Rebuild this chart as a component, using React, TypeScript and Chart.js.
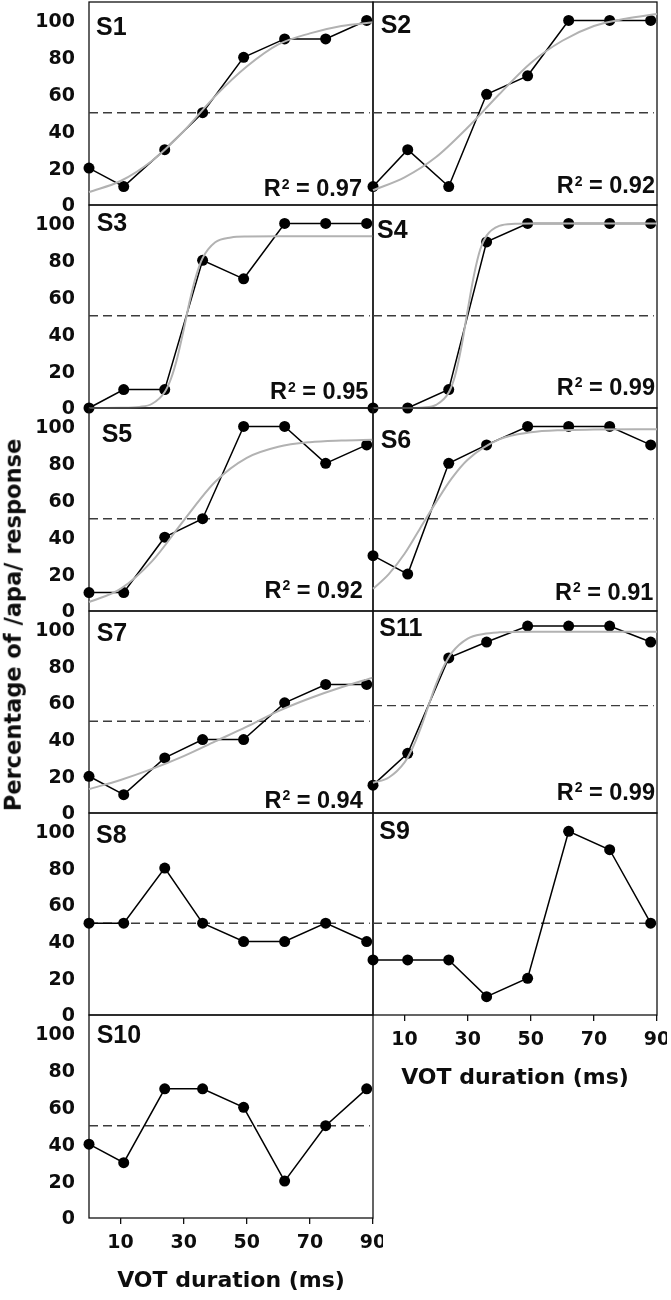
import React, { useEffect, useRef } from "react";
import { Chart, registerables } from "chart.js";

Chart.register(...registerables);

// ---------------- data ----------------
const VOT_MS = [0, 11, 24, 36, 49, 62, 75, 88];
const X_TICKS = [10, 30, 50, 70, 90];
const Y_TICKS = [0, 20, 40, 60, 80, 100];
const CRITERION = 50;

const S1 = [20, 10, 30, 50, 80, 90, 90, 100];
const S2 = [10, 30, 10, 60, 70, 100, 100, 100];
const S3 = [0, 10, 10, 80, 70, 100, 100, 100];
const S4 = [0, 0, 10, 90, 100, 100, 100, 100];
const S5 = [10, 10, 40, 50, 100, 100, 80, 90];
const S6 = [30, 20, 80, 90, 100, 100, 100, 90];
const S7 = [20, 10, 30, 40, 40, 60, 70, 70];
const S8 = [50, 50, 80, 50, 40, 40, 50, 40];
const S9 = [30, 30, 30, 10, 20, 100, 90, 50];
const S10 = [40, 30, 70, 70, 60, 20, 50, 70];
const S11 = [0, 20, 80, 90, 100, 100, 100, 90];

// fitted curves (grey)
const FIT_X = [0, 10, 20, 30, 40, 50, 60, 70, 80, 90];
const FIT_S1 = [7, 13, 24, 40, 59, 75, 87, 93, 97, 99];
const FIT_S2 = [8, 15, 26, 42, 60, 77, 89, 97, 101, 103.5];
const FIT_S3_X = [0, 10, 16, 20, 24, 26, 28, 30, 32, 34, 36, 40, 45, 50, 60, 90];
const FIT_S3 = [0, 0.1, 0.6, 2.3, 8.7, 16, 27.4, 42.4, 58.5, 71.9, 81.2, 89.8, 92.4, 92.9, 93, 93];
const FIT_S4_X = [0, 10, 16, 20, 24, 26, 28, 30, 32, 34, 36, 40, 45, 50, 90];
const FIT_S4 = [0, 0, 0.3, 1.7, 8.4, 17.5, 33, 53, 72, 86, 93.4, 98.7, 99.8, 100, 100];
const FIT_S5 = [4.8, 12, 27, 49, 70, 83, 89, 91.5, 92.4, 92.8];
const FIT_S6_X = [0, 5, 10, 15, 20, 25, 30, 40, 50, 60, 70, 90];
const FIT_S6 = [12, 20, 31, 45, 59, 72, 82, 93, 96.8, 98, 98.3, 98.5];
const FIT_S7 = [13, 18, 24, 31, 39, 47, 55.5, 62.5, 68.5, 73.7];
const FIT_S11_X = [0, 5, 10, 12.5, 15, 17.5, 20, 22.5, 25, 30, 35, 40, 50, 90];
const FIT_S11 = [1.5, 4.8, 14.3, 23.2, 35.3, 49.5, 63.5, 75, 83.4, 92.2, 95.1, 96.1, 96.5, 96.5];

const R2_VALUES = { S1: 0.97, S2: 0.92, S3: 0.95, S4: 0.99, S5: 0.92, S6: 0.91, S7: 0.94, S11: 0.99 };

const Y_TITLE = "Percentage of /apa/ response";
const X_TITLE = "VOT duration (ms)";

// ---------------- layout ----------------
const COL_LEFT = [89, 373];
const COL_W = 284;
const ROW_TOP = [2, 205, 408, 611, 813, 1015];
const ROW_H = [203, 203, 203, 202, 202, 203];
const PAD = 10;
const X_AXIS_H = 76;
const FONT = "'DejaVu Sans', 'Liberation Sans', sans-serif";
const R2_FONT = "'Liberation Sans', Arial, sans-serif";

type PanelCfg = {
  name: string;
  values: number[];
  fitX?: number[];
  fitY?: number[];
  col: number;
  row: number;
  yMin: number;
  yMax: number;
  showX: boolean;
  lab: [number, number];
  r2Pos?: [number, number];
};

const PANELS: PanelCfg[] = [
  { name: "S1", values: S1, fitX: FIT_X, fitY: FIT_S1, col: 0, row: 0, yMin: 0, yMax: 110, showX: false, lab: [7, 33], r2Pos: [11, 9] },
  { name: "S2", values: S2, fitX: FIT_X, fitY: FIT_S2, col: 1, row: 0, yMin: 0, yMax: 110, showX: false, lab: [7.7, 31.3], r2Pos: [2, 11.7] },
  { name: "S3", values: S3, fitX: FIT_S3_X, fitY: FIT_S3, col: 0, row: 1, yMin: 0, yMax: 110, showX: false, lab: [7.7, 25.7], r2Pos: [4.7, 9] },
  { name: "S4", values: S4, fitX: FIT_S4_X, fitY: FIT_S4, col: 1, row: 1, yMin: 0, yMax: 110, showX: false, lab: [4, 33.3], r2Pos: [2, 13.3] },
  { name: "S5", values: S5, fitX: FIT_X, fitY: FIT_S5, col: 0, row: 2, yMin: 0, yMax: 110, showX: false, lab: [12.7, 34.4], r2Pos: [10.3, 13.4] },
  { name: "S6", values: S6, fitX: FIT_S6_X, fitY: FIT_S6, col: 1, row: 2, yMin: 0, yMax: 110, showX: false, lab: [7.7, 40], r2Pos: [3.7, 11.4] },
  { name: "S7", values: S7, fitX: FIT_X, fitY: FIT_S7, col: 0, row: 3, yMin: 0, yMax: 110, showX: false, lab: [7.7, 30], r2Pos: [10.3, 5.4] },
  { name: "S11", values: S11, fitX: FIT_S11_X, fitY: FIT_S11, col: 1, row: 3, yMin: -17.5, yMax: 109.5, showX: false, lab: [6.3, 25.3], r2Pos: [2, 13.4] },
  { name: "S8", values: S8, col: 0, row: 4, yMin: 0, yMax: 110, showX: false, lab: [7, 30] },
  { name: "S9", values: S9, col: 1, row: 4, yMin: 0, yMax: 110, showX: true, lab: [6.3, 26] },
  { name: "S10", values: S10, col: 0, row: 5, yMin: 0, yMax: 110, showX: true, lab: [7.7, 28.3] },
];

const decorPlugin = {
  id: "panelDecor",
  beforeDatasetsDraw(chart: any) {
    const { ctx, chartArea: a } = chart;
    ctx.save();
    ctx.strokeStyle = "#111";
    ctx.lineWidth = 1.3;
    ctx.strokeRect(a.left, a.top, a.right - a.left, a.bottom - a.top);
    ctx.restore();
  },
  afterDatasetsDraw(chart: any, _a: any, opts: any) {
    const { ctx, chartArea: a } = chart;
    ctx.save();
    ctx.fillStyle = "#0d0d0d";
    ctx.textAlign = "left";
    ctx.textBaseline = "alphabetic";
    ctx.font = `bold 25px ${R2_FONT}`;
    ctx.fillText(opts.name, a.left + opts.lab[0], a.top + opts.lab[1]);
    if (opts.r2 != null && opts.r2Pos) {
      const main = `bold 23.5px ${R2_FONT}`;
      const sup = `bold 14px ${R2_FONT}`;
      const rest = " = " + opts.r2.toFixed(2);
      ctx.font = main;
      const wR = ctx.measureText("R").width;
      const wRest = ctx.measureText(rest).width;
      ctx.font = sup;
      const wS = ctx.measureText("2").width;
      let x = a.right - opts.r2Pos[0] - (wR + wS + 1 + wRest);
      const y = a.bottom - opts.r2Pos[1];
      ctx.font = main;
      ctx.fillText("R", x, y);
      x += wR;
      ctx.font = sup;
      ctx.fillText("2", x + 1, y - 7.5);
      x += wS + 1;
      ctx.font = main;
      ctx.fillText(rest, x, y);
    }
    ctx.restore();
  },
};

function buildConfig(p: PanelCfg) {
  const datasets: any[] = [
    {
      data: [{ x: 0, y: CRITERION }, { x: 89, y: CRITERION }],
      borderColor: "#3c3c3c",
      borderWidth: 1.4,
      borderDash: [9, 5],
      pointRadius: 0,
      order: 2,
    },
    {
      data: VOT_MS.map((x, i) => ({ x, y: p.values[i] })),
      borderColor: "#000",
      borderWidth: 1.5,
      pointRadius: 5.5,
      pointBackgroundColor: "#000",
      pointBorderColor: "#000",
      pointBorderWidth: 0,
      tension: 0,
      order: 1,
      clip: false,
    },
  ];
  if (p.fitX && p.fitY) {
    datasets.push({
      data: p.fitX.map((x, i) => ({ x, y: p.fitY![i] })),
      borderColor: "#b2b2b2",
      borderWidth: 2,
      pointRadius: 0,
      cubicInterpolationMode: "monotone",
      order: 0,
      clip: false,
    });
  }
  const leftCol = p.col === 0;
  return {
    type: "line",
    data: { datasets },
    plugins: [decorPlugin],
    options: {
      animation: false,
      responsive: false,
      maintainAspectRatio: false,
      events: [],
      layout: {
        padding: { left: leftCol ? 0 : PAD, right: PAD, top: PAD, bottom: p.showX ? 4 : PAD },
      },
      plugins: {
        legend: { display: false },
        tooltip: { enabled: false },
        panelDecor: { name: p.name, lab: p.lab, r2: (R2_VALUES as any)[p.name], r2Pos: p.r2Pos },
      },
      scales: {
        x: {
          type: "linear",
          min: 0,
          max: 90,
          display: p.showX,
          afterBuildTicks: (s: any) => {
            s.ticks = X_TICKS.map((v) => ({ value: v }));
          },
          afterFit: (s: any) => {
            if (!p.showX) {
              s.height = 0;
              return;
            }
            s.height = X_AXIS_H;
            s.paddingLeft = 0;
            s.paddingRight = 0;
          },
          grid: { display: true, drawOnChartArea: false, drawTicks: true, tickLength: 6, color: "#111", lineWidth: 1.3 },
          border: { display: false },
          ticks: { color: "#0d0d0d", padding: 8, font: { family: FONT, weight: "bold", size: 19 }, maxRotation: 0 },
          title: {
            display: true,
            text: X_TITLE,
            color: "#0d0d0d",
            padding: { top: 0, bottom: 0 },
            font: { family: FONT, weight: "bold", size: 22 },
          },
        },
        y: {
          type: "linear",
          min: p.yMin,
          max: p.yMax,
          display: leftCol,
          afterBuildTicks: (s: any) => {
            s.ticks = Y_TICKS.map((v) => ({ value: v }));
          },
          afterFit: (s: any) => {
            if (!leftCol) {
              s.width = 0;
              return;
            }
            s.width = COL_LEFT[0];
            s.paddingTop = 0;
            s.paddingBottom = 0;
          },
          grid: { display: false },
          border: { display: false },
          ticks: {
            color: "#0d0d0d",
            padding: 6,
            labelOffset: 1.5,
            autoSkip: false,
            font: { family: FONT, weight: "bold", size: 19 },
          },
        },
      },
    },
  } as any;
}

function Panel({ p }: { p: PanelCfg }) {
  const ref = useRef<HTMLCanvasElement>(null);
  const leftCol = p.col === 0;
  const left = leftCol ? 0 : COL_LEFT[1] - PAD;
  const top = ROW_TOP[p.row] - PAD;
  const width = leftCol ? COL_LEFT[1] + PAD : COL_W + 2 * PAD;
  const height = PAD + ROW_H[p.row] + (p.showX ? X_AXIS_H + 4 : PAD);
  useEffect(() => {
    const chart = new Chart(ref.current as HTMLCanvasElement, buildConfig(p));
    return () => chart.destroy();
  }, []);
  return (
    <canvas
      ref={ref}
      width={width}
      height={height}
      style={{ position: "absolute", left, top, width, height }}
    />
  );
}

export default function App() {
  return (
    <div style={{ position: "absolute", left: 0, top: 0, width: 671, height: 1300, background: "#fff", overflow: "hidden" }}>
      {PANELS.map((p) => (
        <Panel key={p.name} p={p} />
      ))}
      <div
        style={{
          position: "absolute",
          left: 12.5,
          top: 625,
          transform: "translate(-50%, -50%) rotate(-90deg)",
          whiteSpace: "nowrap",
          font: `bold 22.5px ${FONT}`,
          lineHeight: 1,
          color: "#0d0d0d",
        }}
      >
        {Y_TITLE}
      </div>
    </div>
  );
}
